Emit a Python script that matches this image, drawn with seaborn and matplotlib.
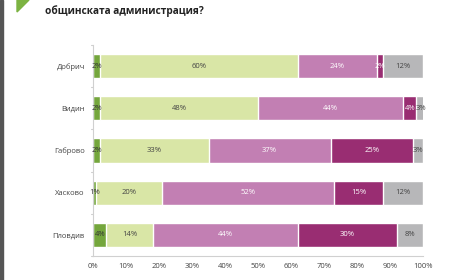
import matplotlib
matplotlib.use("Agg")
import matplotlib.pyplot as plt
import seaborn as sns
import numpy as np
import pandas as pd
from matplotlib.patches import Polygon, Rectangle

sns.set_theme(style="white")
plt.rcParams['font.family'] = ['Open Sans', 'DejaVu Sans']

title = "общинската администрация?"
cities = ["Добрич", "Видин", "Габрово", "Хасково", "Пловдив"]
s1 = [2, 2, 2, 1, 4]
s2 = [60, 48, 33, 20, 14]
s3 = [24, 44, 37, 52, 44]
s4 = [2, 4, 25, 15, 30]
s5 = [12, 3, 3, 12, 8]
series = [s1, s2, s3, s4, s5]
colors = ["#74a63c", "#d9e6a6", "#c27fb3", "#992d72", "#b7b7b9"]
text_colors = ["#333333", "#444444", "#ffffff", "#ffffff", "#444444"]
xticks = [0, 10, 20, 30, 40, 50, 60, 70, 80, 90, 100]
xticklabels = ["0%", "10%", "20%", "30%", "40%", "50%", "60%", "70%", "80%", "90%", "100%"]

fig = plt.figure(figsize=(4.5, 2.8), dpi=100)
ax = fig.add_axes([0.207, 0.086, 0.733, 0.753])

arr = np.array(series, dtype=float)
cum = np.cumsum(arr, axis=0)
# draw from full total backwards so each segment shows
for i in range(len(series) - 1, -1, -1):
    df = pd.DataFrame({"city": cities, "val": cum[i]})
    sns.barplot(data=df, x="val", y="city", orient="h", color=colors[i],
                saturation=1, width=0.57, ax=ax, order=cities)

for i in range(len(series)):
    starts = cum[i] - arr[i]
    for j in range(len(cities)):
        mid = starts[j] + arr[i][j] / 2
        ax.text(mid, j, f"{int(arr[i][j])}%", ha="center", va="center",
                fontsize=5.5, color=text_colors[i])

ax.set_xlim(0, 100)
ax.set_ylim(4.5, -0.5)
ax.set_xticks(xticks)
ax.set_xticklabels(xticklabels, fontsize=5.5, color="#444444")
ax.tick_params(axis="y", labelsize=5.5, colors="#444444", length=0, pad=6)
ax.tick_params(axis="x", length=2, color="#cccccc", pad=3)
ax.set_xlabel("")
ax.set_ylabel("")
for sp in ["top", "right"]:
    ax.spines[sp].set_visible(False)
for sp in ["left", "bottom"]:
    ax.spines[sp].set_color("#d0d0d0")
    ax.spines[sp].set_linewidth(0.8)
for y in np.arange(-0.5, 5, 1.0):
    ax.plot([-0.8, 0], [y, y], color="#d0d0d0", lw=0.8, clip_on=False)

# left dark border strip and green triangle logo
fig.patches.append(Rectangle((0, 0), 3/450, 1, transform=fig.transFigure,
                             color="#555555", zorder=0))
fig.patches.append(Polygon([[17/450, 1], [29/450, 1], [17/450, 1 - 12/280]],
                           closed=True, transform=fig.transFigure,
                           color="#7cb342", zorder=1))
fig.text(45/450, 1 - 11/280, title, fontsize=7.3, fontweight="bold",
         color="#222222", va="center", ha="left")

fig.savefig("out.png", dpi=100)
